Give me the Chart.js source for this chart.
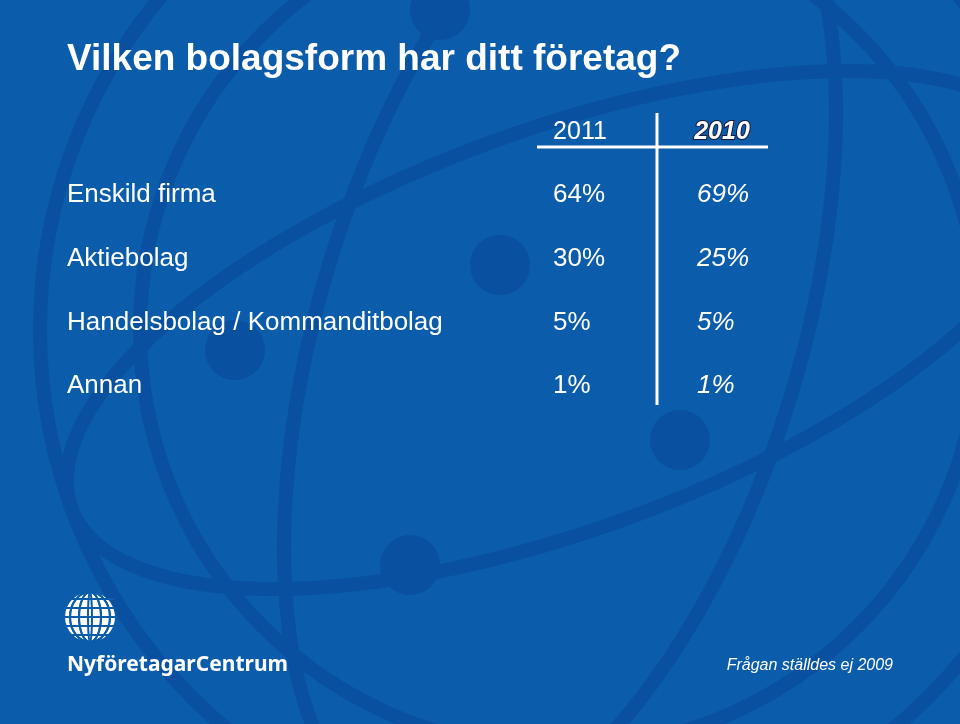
<!DOCTYPE html>
<html><head><meta charset="utf-8">
<script src="https://cdn.jsdelivr.net/npm/chart.js@4.4.0/dist/chart.umd.min.js"></script>
<style>html,body{margin:0;padding:0;background:#0b5cab}</style>
</head><body>
<canvas id="c" width="960" height="724"></canvas>
<script>
const title = 'Vilken bolagsform har ditt företag?';
const categories = ['Enskild firma', 'Aktiebolag', 'Handelsbolag / Kommanditbolag', 'Annan'];
const years = ['2011', '2010'];
const values2011 = [64, 30, 5, 1];
const values2010 = [69, 25, 5, 1];
const footnote = 'Frågan ställdes ej 2009';

const font = '"Liberation Sans", sans-serif';

const backdrop = {
  id: 'backdrop',
  beforeDraw(chart) {
    const c = chart.ctx, W = chart.width, H = chart.height;
    c.save();
    c.fillStyle = '#0b5cab';
    c.fillRect(0, 0, W, H);
    // faint globe meridians / parallels
    c.strokeStyle = '#0a50a0';
    c.lineWidth = 14;
    c.beginPath(); c.arc(560, 330, 520, 0, Math.PI * 2); c.stroke();
    c.beginPath(); c.ellipse(560, 330, 240, 520, 0.3, 0, Math.PI * 2); c.stroke();
    c.beginPath(); c.ellipse(560, 330, 520, 200, -0.35, 0, Math.PI * 2); c.stroke();
    c.beginPath(); c.ellipse(560, 330, 420, 420, 0, 0, Math.PI * 2); c.stroke();
    c.fillStyle = '#0a50a0';
    [[500, 265], [680, 440], [410, 565], [235, 350], [440, 10]].forEach(([x, y]) => {
      c.beginPath(); c.arc(x, y, 30, 0, Math.PI * 2); c.fill();
    });
    c.restore();
  },
  afterDraw(chart) {
    const c = chart.ctx, ys = chart.scales.y;
    c.save();
    c.fillStyle = '#fff';
    c.textBaseline = 'middle';
    c.font = 'bold 37px ' + font;
    c.fillText(title, 67, 60);

    c.font = '25px ' + font;
    c.textAlign = 'center';
    c.fillText(years[0], 580, 132);
    c.font = 'bold italic 25px ' + font;
    c.strokeStyle = '#1a1a3a'; c.lineWidth = 2;
    c.strokeText(years[1], 722, 132);
    c.fillText(years[1], 722, 132);

    c.strokeStyle = '#fff'; c.lineWidth = 3;
    c.beginPath();
    c.moveTo(537, 147); c.lineTo(768, 147);
    c.moveTo(657, 113); c.lineTo(657, 405);
    c.stroke();

    categories.forEach((cat, i) => {
      const y = ys.getPixelForValue(i);
      c.textAlign = 'left';
      c.font = '26px ' + font;
      c.fillText(cat, 67, y);
      c.fillText(values2011[i] + '%', 553, y);
      c.font = 'italic 26px ' + font;
      c.fillText(values2010[i] + '%', 697, y);
    });

    // logo
    c.beginPath(); c.arc(90, 617, 25, 0, Math.PI * 2); c.fill();
    c.strokeStyle = '#0b5cab'; c.lineWidth = 2;
    for (let k = -2; k <= 2; k++) {
      c.beginPath(); c.ellipse(90, 617, Math.abs(k) * 9 + 2, 25, 0, 0, Math.PI * 2); c.stroke();
      c.beginPath(); c.moveTo(65, 617 + k * 9); c.lineTo(115, 617 + k * 9); c.stroke();
    }
    c.font = 'bold 21px "Noto Sans", sans-serif';
    c.fillText('NyföretagarCentrum', 67, 665);
    c.font = 'italic 16px ' + font;
    c.textAlign = 'right';
    c.fillText(footnote, 893, 666);
    c.restore();
  }
};

new Chart(document.getElementById('c'), {
  type: 'bar',
  data: { labels: categories, datasets: [{ data: values2011, backgroundColor: 'rgba(0,0,0,0)' }] },
  options: {
    indexAxis: 'y',
    responsive: false,
    animation: false,
    events: [],
    layout: { padding: { left: 0, right: 0, top: 163, bottom: 306 } },
    plugins: { legend: { display: false }, tooltip: { enabled: false } },
    scales: { x: { display: false, min: 0, max: 100 }, y: { display: false, offset: true } }
  },
  plugins: [backdrop]
});
</script>
</body></html>
